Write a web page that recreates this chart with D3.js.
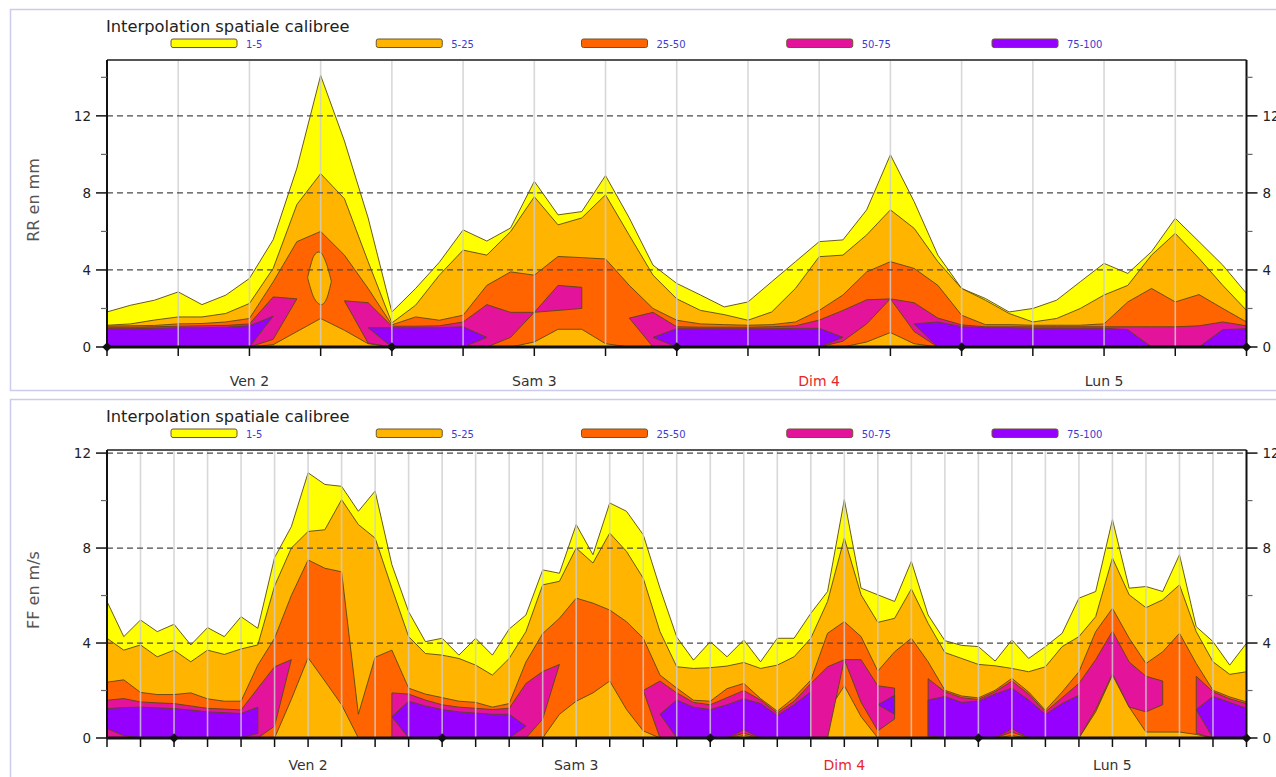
<!DOCTYPE html>
<html>
<head>
<meta charset="utf-8">
<script src="https://cdn.jsdelivr.net/npm/d3@7"></script>
<style>
  body { margin: 0; background: #fff; }
  svg text { font-family: "DejaVu Sans", sans-serif; }
</style>
</head>
<body>
<svg id="chart" width="1276" height="777"></svg>
<script>
//-- data --//
var classes = ["1-5", "5-25", "25-50", "50-75", "75-100"];
var dayLabels = ["Ven 2", "Sam 3", "Dim 4", "Lun 5"];
var dayMidHours = [12, 36, 60, 84];
var dayStartHours = [0, 24, 48, 72, 96];

// RR (mm) : time in hours, one value every 2 h
var rrHours = [0,2,4,6,8,10,12,14,16,18,20,22,24,26,28,30,32,34,36,38,40,42,44,46,48,
  50,52,54,56,58,60,62,64,66,68,70,72,74,76,78,80,82,84,86,88,90,92,94,96];
var rrTickHours = [0,6,12,18,24,30,36,42,48,54,60,66,72,78,84,90,96];
var rrMajorTicks = [0, 4, 8, 12];
var rrMinorTicks = [2, 6, 10, 14];
// upper edge of each class (lower edge of 1-5 and 5-25 is 0)
var rr1hi = [1.82,2.17,2.43,2.86,2.2,2.69,3.56,5.57,9.29,14.1,10.7,6.7,1.82,3.04,4.4,6.08,5.5,6.18,8.6,6.86,7.03,8.9,6.7,4.25,3.3,
  2.7,2.08,2.34,3.39,4.43,5.47,5.56,7.12,9.98,7.55,4.77,3.04,2.52,1.82,2.0,2.43,3.39,4.34,3.82,4.95,6.68,5.47,4.25,2.78];
var rr5hi = [1.13,1.2,1.4,1.56,1.56,1.74,2.26,4.08,7.4,9.0,7.7,4.43,1.25,2.17,3.73,5.03,4.77,5.99,7.8,6.34,6.7,7.9,5.8,3.73,2.5,
  1.9,1.68,1.39,1.82,3.04,4.69,4.77,5.82,7.12,6.16,4.43,3.04,2.43,1.74,1.3,1.48,2.0,2.7,3.2,4.77,5.9,4.6,3.2,1.9];
var rr25lo = [0,0,0,0,0,0,0,0.12,0.8,1.48,0.87,0.17,0,0,0,0,0,0,0.26,0.92,0.92,0.17,0,0,0,
  0,0,0,0,0,0,0,0.26,0.75,0.17,0,0,0,0,0,0,0,0,0,0,0,0,0,0];
var rr25hi = [1.09,1.1,1.12,1.2,1.22,1.3,1.48,3.38,5.47,6.0,4.77,3.04,1.15,1.56,1.39,1.65,3.2,3.9,3.73,4.7,4.64,4.57,3.2,2.0,1.39,
  1.2,1.16,1.13,1.16,1.3,1.9,2.7,3.9,4.43,4.08,3.2,1.65,1.16,1.16,1.13,1.13,1.13,1.2,2.34,3.04,2.34,2.72,2.0,1.3];
var rr50lo = [0,0,0,0,0,0,0,0.4,2.5,null,2.4,0.2,0,0,0,0,0,0.5,1.8,1.9,2.0,null,1.5,0,0,
  0,0,0,0,0,0,0.3,1.2,2.5,0.8,0,0,0,0,0,0,0,0,0,0,0,0,0,0];
var rr50hi = [1.03,1.03,1.05,1.08,1.1,1.12,1.2,2.6,2.5,null,2.4,2.3,1.08,1.08,1.1,1.3,2.2,1.8,1.8,3.2,3.1,null,1.5,1.8,1.05,
  1.03,1.03,1.03,1.05,1.1,1.4,1.9,2.45,2.5,2.3,1.5,1.15,1.05,1.05,1.05,1.05,1.05,1.05,1.05,1.05,1.05,1.1,1.3,1.1];
var rr75lo = [0,0,0,0,0,0,0,1.6,null,null,null,1.0,0,0,0,0,0.5,null,null,null,null,null,null,0.5,0,
  0,0,0,0,0,0,0.5,null,null,1.2,0,0,0,0,0,0,0,0,0,0,null,0,0,0];
var rr75hi = [0.95,0.95,0.97,1.0,1.0,1.03,1.1,1.6,null,null,null,1.0,1.0,1.0,1.0,1.05,0.5,null,null,null,null,null,null,0.5,0.95,
  0.95,0.95,0.95,0.95,0.97,0.97,0.5,null,null,1.2,1.3,1.05,1.0,1.0,0.97,0.97,0.97,0.97,0.9,0,null,0,0.9,0.95];
// 5-25 island inside the 25-50 zone (Ven 2 peak)
var rrIslandHours = [16.9, 17.4, 18, 18.5, 18.9];
var rrIslandLo = [3.6, 2.6, 2.2, 2.5, 3.4];
var rrIslandHi = [3.6, 4.7, 4.9, 4.3, 3.4];

// FF (m/s) : time in hours, one value every 1.5 h
var ffHours = [-6,-4.5,-3,-1.5,0,1.5,3,4.5,6,7.5,9,10.5,12,13.5,15,16.5,18,19.5,21,22.5,24,25.5,27,28.5,30,31.5,33,34.5,
  36,37.5,39,40.5,42,43.5,45,46.5,48,49.5,51,52.5,54,55.5,57,58.5,60,61.5,63,64.5,66,67.5,69,70.5,72,73.5,75,76.5,78,
  79.5,81,82.5,84,85.5,87,88.5,90,91.5,93,94.5,96];
var ffTickHours = [-6,-3,0,3,6,9,12,15,18,21,24,27,30,33,36,39,42,45,48,51,54,57,60,63,66,69,72,75,78,81,84,87,90,93,96];
var ffMajorTicks = [0, 4, 8, 12];
var ffMinorTicks = [2, 6, 10];
var ff1hi = [5.75,4.27,4.97,4.48,4.79,3.92,4.65,4.27,5.11,4.62, 7.6,8.9,11.17,10.68,10.6,9.55,10.4,7.3,5.32,4.06,
  4.2,3.49,4.2,3.49,4.59,5.18,7.08,6.94,8.99,7.72, 9.9,9.55,8.56,6.31,4.25,3.28,4.06,3.42,4.13,3.21,
  4.2,4.2,5.25,6.17,10.04,6.31,6.03,5.75,7.44,5.18, 4.1,3.9,3.85,3.24,4.13,3.35,3.85,4.41,5.89,6.17,
  9.2,6.31,6.38,6.17,7.72,4.69,4.06,3.07,3.99];
var ff5hi = [4.2,3.7,3.92,3.42,3.7,3.21,3.7,3.52,3.75,3.92, 6.4,8.0,8.7,8.77,10.04,8.99,8.42,6.31,4.27,3.56,
  3.49,3.35,3.07,2.65,3.35,4.48,6.45,6.6,8.0,7.37, 8.63,7.86,6.73,4.48,3.0,2.93,2.96,3.03,3.18,2.93,
  3.07,3.42,4.2,5.75,8.42,6.03,4.87,5.04,6.28,4.83, 3.6,3.35,3.1,3.04,2.93,2.79,3.0,3.85,4.27,5.11,
  7.58,6.03,5.49,5.82,6.45,4.48,3.21,2.68,2.79];
var ff25lo = [0,0,0,0,0,0,0,0,0,0, 0,1.63,3.38,2.4,1.4,0,0,0,0,0,
  0,0,0,0,0,0,0,1.0,1.55,1.9, 2.4,1.2,0.3,0,0,0,0,0,0.1,0,
  0,0,0,1.1,2.2,0.9,0,0,0,0, 0,0,0,0,0.1,0,0,0,0,1.1,
  2.65,1.3,0.25,0.25,0.25,0.15,0,0,0];
var ff25hi = [2.35,2.45,1.92,1.83,1.83,1.9,1.65,1.55,1.55,3.07, 4.2,6.0,7.5,7.15,7.0,1.0,3.4,3.7,2.1,1.85,
  1.7,1.55,1.5,1.3,1.45,3.2,4.4,5.04,5.89,5.68, 5.39,4.9,4.2,2.65,2.1,1.59,1.55,2.08,2.3,1.66,
  1.13,1.7,2.44,4.41,4.9,4.27,2.82,3.63,4.2,3.21, 2.01,1.77,1.69,2.01,2.51,1.94,1.17,1.94,2.79,4.48,
  5.46,4.2,3.14,3.63,4.41,3.14,2.01,1.73,1.52];
var ff50lo = [0,0,0,0,0,0,0,0,0,0, 0.5,3.3,null,null,null,null,null,0,0,0,
  0,0,0,0,0,0,0.8,3.1,null,null, null,null,2.0,0,0,0,0,0,0.2,0,
  0,0,0,0,3.3,1.5,0.3,0.8,null,0, 0,0,0,0,0.25,0,0,0,0,1.2,
  2.7,1.3,1.1,1.4,null,0.2,0,0,0];
var ff50hi = [1.59,1.66,1.52,1.48,1.45,1.35,1.25,1.22,1.18,2.1, 3.0,3.3,null,null,null,null,null,1.9,1.85,1.6,
  1.4,1.3,1.25,1.2,1.25,2.3,2.8,3.1,null,null, null,null,2.0,2.4,1.9,1.5,1.4,1.7,2.0,1.6,
  1.05,1.55,2.3,3.0,3.3,3.3,2.2,2.1,null,2.5, 1.95,1.7,1.62,1.95,2.4,1.85,1.1,1.7,2.3,3.3,
  4.5,3.2,2.6,2.4,null,2.6,1.95,1.65,1.45];
var ff75lo = [0.4,0.1,0,0,0,0,0,0,0,0.2, null,null,null,null,null,null,null,0.9,0,0,
  0,0,0,0,0,0.5,null,null,null,null, null,null,null,1.0,0,0,0,0,0.35,0,
  0,0,0,null,null,null,1.4,1.0,null,0.1, 0,0,0,0,0.4,0,0,0,0,null,
  null,null,null,null,null,1.2,0,0,0];
var ff75hi = [1.24,1.28,1.3,1.27,1.24,1.18,1.1,1.07,1.03,1.3, null,null,null,null,null,null,null,0.9,1.55,1.35,
  1.2,1.1,1.05,1.0,1.0,0.5,null,null,null,null, null,null,null,1.0,1.6,1.3,1.2,1.4,1.65,1.45,
  0.95,1.4,1.95,null,null,null,1.4,1.8,null,1.6, 1.75,1.5,1.55,1.85,2.1,1.6,1.0,1.45,1.8,null,
  null,null,null,null,null,1.2,1.75,1.5,1.25];
//-- data --//


//-- colours --//
var classColors = ["#ffff00", "#ffb400", "#ff6400", "#e3149b", "#9600ff"];
var lineColor = "#5a4710";
//-- colours --//

var svg = d3.select("#chart");

function drawPanel(p) {

    var g = svg.append("g");
    var left = 107, right = 1246.5;

    var x = d3.scaleLinear().domain(p.xDomain).range([left, right]);
    var y = d3.scaleLinear().domain([0, p.yMax]).range([p.bottom, p.top]);

    //--panel frame + title + legend--//
    g.append("rect")
        .attr("x", 10.5).attr("y", p.boxTop + 0.5)
        .attr("width", 1300).attr("height", p.boxHeight)
        .attr("fill", "none").attr("stroke", "#cbcbee").attr("stroke-width", 1.5);

    g.append("text")
        .attr("x", 106).attr("y", p.boxTop + 23)
        .style("font-size", "16.3px").attr("fill", "#222")
        .text("Interpolation spatiale calibree");

    var lg = g.selectAll(".lg").data(classes).enter().append("g")
        .attr("transform", (d, i) => `translate(${171 + i * 205.25},${p.boxTop + 30})`);
    lg.append("rect")
        .attr("width", 66).attr("height", 8.5).attr("rx", 2)
        .attr("fill", (d, i) => classColors[i])
        .attr("stroke", "#6a5530").attr("stroke-width", 1);
    lg.append("text")
        .attr("x", 75).attr("y", 8.8)
        .style("font-size", "10px").attr("fill", "#3c3cd0")
        .text(d => d);
    //--legend--//

    //--coloured zones--//
    var clipId = "clip-" + p.id;
    g.append("clipPath").attr("id", clipId)
      .append("rect")
        .attr("x", left).attr("y", p.top)
        .attr("width", right - left).attr("height", p.bottom - p.top);

    var plot = g.append("g").attr("clip-path", `url(#${clipId})`);

    var area = d3.area()
        .defined(d => d.hi != null && d.lo != null)
        .x(d => x(d.h))
        .y0(d => y(d.lo))
        .y1(d => y(d.hi));

    p.layers.forEach(function(L, k) {
        var rows = p.hours.map((h, i) => ({h: h, lo: L.lo ? L.lo[i] : 0, hi: L.hi[i]}));
        plot.append("path")
            .datum(rows)
            .attr("d", area)
            .attr("fill", classColors[k])
            .attr("stroke", lineColor)
            .attr("stroke-width", 0.9)
            .attr("stroke-linejoin", "round");
    });

    (p.islands || []).forEach(function(I) {
        var rows = I.hours.map((h, i) => ({h: h, lo: I.lo[i], hi: I.hi[i]}));
        plot.append("path")
            .datum(rows)
            .attr("d", area.curve(d3.curveCardinal))
            .attr("fill", classColors[I.level])
            .attr("stroke", lineColor)
            .attr("stroke-width", 0.9);
        area.curve(d3.curveLinear);
    });

    //--grid--//
    plot.selectAll(".vgrid")
        .data(p.tickHours.filter(h => h > p.xDomain[0] && h < p.xDomain[1]))
        .enter().append("line")
        .attr("x1", d => x(d)).attr("x2", d => x(d))
        .attr("y1", p.top).attr("y2", p.bottom)
        .attr("stroke", "#cfcfcf").attr("stroke-width", 1.6).attr("opacity", 0.8);

    g.selectAll(".hgrid")
        .data(p.majorTicks.filter(v => v > 0))
        .enter().append("line")
        .attr("x1", left).attr("x2", right)
        .attr("y1", d => y(d)).attr("y2", d => y(d))
        .attr("stroke", "#4a4a4a").attr("stroke-width", 1.2)
        .attr("stroke-dasharray", "6,4");
    //--grid--//

    //--frame and y axes--//
    g.append("line")
        .attr("x1", left).attr("x2", right)
        .attr("y1", p.top).attr("y2", p.top)
        .attr("stroke", "#555").attr("stroke-width", 2);

    [[left, -1], [right, 1]].forEach(function(s) {
        var ax = g.append("g");
        ax.append("line")
            .attr("x1", s[0]).attr("x2", s[0])
            .attr("y1", p.top).attr("y2", p.bottom)
            .attr("stroke", "#111").attr("stroke-width", 2);
        ax.selectAll(".maj").data(p.majorTicks).enter().append("line")
            .attr("x1", s[0]).attr("x2", s[0] + s[1] * 11)
            .attr("y1", d => y(d)).attr("y2", d => y(d))
            .attr("stroke", "#111").attr("stroke-width", 1.5);
        ax.selectAll(".min").data(p.minorTicks).enter().append("line")
            .attr("x1", s[0]).attr("x2", s[0] + s[1] * 6)
            .attr("y1", d => y(d)).attr("y2", d => y(d))
            .attr("stroke", "#666").attr("stroke-width", 1.2);
        ax.selectAll("text").data(p.majorTicks).enter().append("text")
            .attr("x", s[0] + s[1] * 16)
            .attr("y", d => y(d) + 5)
            .attr("text-anchor", s[1] < 0 ? "end" : "start")
            .style("font-size", "13.5px").attr("fill", "#222")
            .text(d => d);
    });

    g.append("text")
        .attr("transform", `translate(39,${p.yTitleAt}) rotate(-90)`)
        .attr("text-anchor", "middle")
        .style("font-size", "16px").attr("fill", "#555")
        .text(p.yTitle);
    //--y axes--//

    //--x axis--//
    g.selectAll(".xtick").data(p.tickHours).enter().append("line")
        .attr("x1", d => x(d)).attr("x2", d => x(d))
        .attr("y1", p.bottom).attr("y2", p.bottom + 9)
        .attr("stroke", "#111").attr("stroke-width", 1.5);

    g.append("line")
        .attr("x1", left).attr("x2", right)
        .attr("y1", p.bottom).attr("y2", p.bottom)
        .attr("stroke", "#111").attr("stroke-width", 3);

    g.selectAll(".diam").data(dayStartHours).enter().append("path")
        .attr("d", d3.symbol(d3.symbolSquare, 46))
        .attr("transform", d => `translate(${x(d)},${p.bottom}) rotate(45)`)
        .attr("fill", "#111");

    g.selectAll(".day").data(dayLabels).enter().append("text")
        .attr("x", (d, i) => x(dayMidHours[i]))
        .attr("y", p.bottom + p.dayOffset)
        .attr("text-anchor", "middle")
        .style("font-size", "14px")
        .attr("fill", d => d.indexOf("Dim") === 0 ? "#e8262a" : "#333")
        .text(d => d);
    //--x axis--//
}

drawPanel({
    id: "rr", boxTop: 9, boxHeight: 381,
    top: 60, bottom: 347, yMax: 14.9,
    xDomain: [0, 96], hours: rrHours, tickHours: rrTickHours,
    majorTicks: rrMajorTicks, minorTicks: rrMinorTicks,
    yTitle: "RR en mm", yTitleAt: 200, dayOffset: 39,
    layers: [
        {lo: null, hi: rr1hi},
        {lo: null, hi: rr5hi},
        {lo: rr25lo, hi: rr25hi},
        {lo: rr50lo, hi: rr50hi},
        {lo: rr75lo, hi: rr75hi}
    ],
    islands: [{hours: rrIslandHours, lo: rrIslandLo, hi: rrIslandHi, level: 1}]
});

drawPanel({
    id: "ff", boxTop: 399, boxHeight: 400,
    top: 450, bottom: 738, yMax: 12.13,
    xDomain: [-6, 96], hours: ffHours, tickHours: ffTickHours,
    majorTicks: ffMajorTicks, minorTicks: ffMinorTicks,
    yTitle: "FF en m/s", yTitleAt: 590, dayOffset: 32,
    layers: [
        {lo: null, hi: ff1hi},
        {lo: null, hi: ff5hi},
        {lo: ff25lo, hi: ff25hi},
        {lo: ff50lo, hi: ff50hi},
        {lo: ff75lo, hi: ff75hi}
    ]
});
</script>
</body>
</html>
